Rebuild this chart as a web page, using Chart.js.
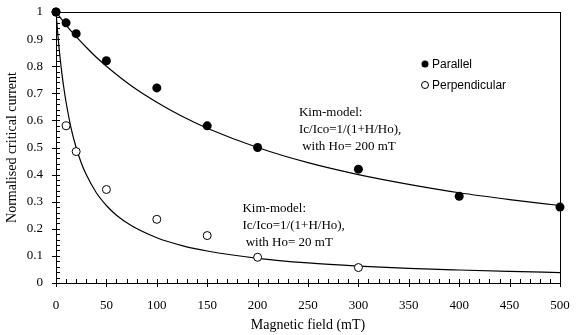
<!DOCTYPE html>
<html><head><meta charset="utf-8">
<script src="https://cdn.jsdelivr.net/npm/chart.js@4/dist/chart.umd.min.js"></script>
<style>html,body{margin:0;padding:0;background:#fff}#wrap{width:579px;height:335px}</style>
</head><body><div id="wrap"><canvas id="c" width="579" height="335"></canvas></div>
<script>
// Measured data
const parallelField = [0, 10, 20, 50, 100, 150, 200, 300, 400, 500];
const parallelIc = [1.0, 0.96, 0.92, 0.82, 0.72, 0.58, 0.50, 0.42, 0.32, 0.28];
const perpField = [0, 10, 20, 50, 100, 150, 200, 300];
const perpIc = [1.0, 0.58, 0.485, 0.345, 0.235, 0.175, 0.095, 0.057];
// Kim-model curves
const kim200Field = [0, 10, 20, 30, 40, 50, 75, 100, 125, 150, 200, 250, 300, 350, 400, 450, 500];
const kim200Ic = [1.0, 0.952, 0.909, 0.870, 0.833, 0.800, 0.727, 0.667, 0.615, 0.571, 0.500, 0.444, 0.400, 0.364, 0.333, 0.308, 0.286];
const kim20Field = [0, 2, 4, 6, 8, 10, 15, 20, 25, 30, 40, 50, 60, 75, 100, 125, 150, 200, 250, 300, 350, 400, 450, 500];
const kim20Ic = [1.0, 0.909, 0.833, 0.769, 0.714, 0.667, 0.571, 0.500, 0.444, 0.400, 0.333, 0.286, 0.250, 0.211, 0.167, 0.138, 0.118, 0.091, 0.074, 0.0625, 0.054, 0.048, 0.043, 0.0385];
const seriesLabels = ['Parallel', 'Perpendicular'];
const annotations = [
  {x: 241, y: 0.628, lines: ['Kim-model:', 'Ic/Ico=1/(1+H/Ho),', ' with Ho= 200 mT']},
  {x: 185, y: 0.276, lines: ['Kim-model:', 'Ic/Ico=1/(1+H/Ho),', ' with Ho= 20 mT']}
];

const pts = (xs, ys) => xs.map((x, i) => ({x, y: ys[i]}));
const serif = '"Liberation Serif", "Times New Roman", serif';
const sans = '"Liberation Sans", Arial, sans-serif';

const framePlugin = {
  id: 'frame',
  afterDatasetsDraw(chart) {
    const {ctx, chartArea: a, scales: {x, y}} = chart;
    ctx.save();
    ctx.strokeStyle = '#000';
    ctx.lineWidth = 1;
    ctx.strokeRect(Math.round(a.left) + 0.5, Math.round(a.top) + 0.5, Math.round(a.right - a.left), Math.round(a.bottom - a.top));
    ctx.beginPath();
    for (let v = 0; v <= 100; v += 2) {
      const py = Math.round(y.getPixelForValue(v / 100)) + 0.5;
      const major = v % 10 === 0;
      ctx.moveTo(a.left - (major ? 4 : 0), py);
      ctx.lineTo(a.left + 4, py);
    }
    for (let v = 0; v <= 500; v += 10) {
      const px = Math.round(x.getPixelForValue(v)) + 0.5;
      const major = v % 50 === 0;
      ctx.moveTo(px, a.bottom + (major ? 4 : 0));
      ctx.lineTo(px, a.bottom - 4);
    }
    ctx.stroke();
    ctx.fillStyle = '#000';
    ctx.font = '13px ' + serif;
    ctx.textBaseline = 'middle';
    annotations.forEach(an => {
      const px = x.getPixelForValue(an.x), py = y.getPixelForValue(an.y);
      an.lines.forEach((t, i) => ctx.fillText(t, px, py + i * 17));
    });
    ctx.font = '12px ' + sans;
    const lx = 425, ly = [64, 85];
    seriesLabels.forEach((lab, i) => {
      ctx.beginPath();
      ctx.arc(lx, ly[i], 3.5, 0, Math.PI * 2);
      if (i === 0) { ctx.fillStyle = '#000'; ctx.fill(); }
      else { ctx.fillStyle = '#fff'; ctx.fill(); ctx.stroke(); }
      ctx.fillStyle = '#000';
      ctx.fillText(lab, lx + 7, ly[i] + 1);
    });
    ctx.restore();
  }
};

new Chart(document.getElementById('c'), {
  type: 'scatter',
  data: {
    datasets: [
      {label: 'kim200', data: pts(kim200Field, kim200Ic), showLine: true, pointRadius: 0, borderColor: '#000', borderWidth: 1.2, cubicInterpolationMode: 'monotone', order: 3},
      {label: 'kim20', data: pts(kim20Field, kim20Ic), showLine: true, pointRadius: 0, borderColor: '#000', borderWidth: 1.2, cubicInterpolationMode: 'monotone', order: 3},
      {label: seriesLabels[1], data: pts(perpField, perpIc), pointRadius: 4, pointBackgroundColor: '#fff', pointBorderColor: '#000', pointBorderWidth: 1, clip: false, order: 2},
      {label: seriesLabels[0], data: pts(parallelField, parallelIc), pointRadius: 4.5, pointBackgroundColor: '#000', pointBorderColor: '#000', pointBorderWidth: 0, clip: false, order: 1}
    ]
  },
  options: {
    responsive: false,
    animation: false,
    devicePixelRatio: 1,
    layout: {padding: {left: 0, right: 19, top: 12, bottom: 0}},
    plugins: {legend: {display: false}, tooltip: {enabled: false}},
    scales: {
      x: {
        type: 'linear', min: 0, max: 500,
        grid: {display: false, drawTicks: false},
        border: {display: false},
        ticks: {stepSize: 50, color: '#000', padding: 15, font: {family: serif, size: 13}},
        title: {display: true, text: 'Magnetic field (mT)', color: '#000', font: {family: serif, size: 14}, padding: {top: 0, bottom: 1}},
        afterFit: s => { s.height = 52; s.paddingLeft = 0; s.paddingRight = 0; }
      },
      y: {
        type: 'linear', min: 0, max: 1,
        grid: {display: false, drawTicks: false},
        border: {display: false},
        ticks: {stepSize: 0.1, color: '#000', padding: 13, font: {family: serif, size: 13},
          callback: v => String(Math.round(v * 10) / 10)},
        title: {display: true, text: 'Normalised critical current', color: '#000', font: {family: serif, size: 14}, padding: {top: 4, bottom: 0}},
        afterFit: s => { s.width = 56; s.paddingTop = 0; s.paddingBottom = 0; }
      }
    }
  },
  plugins: [framePlugin]
});
</script></body></html>
